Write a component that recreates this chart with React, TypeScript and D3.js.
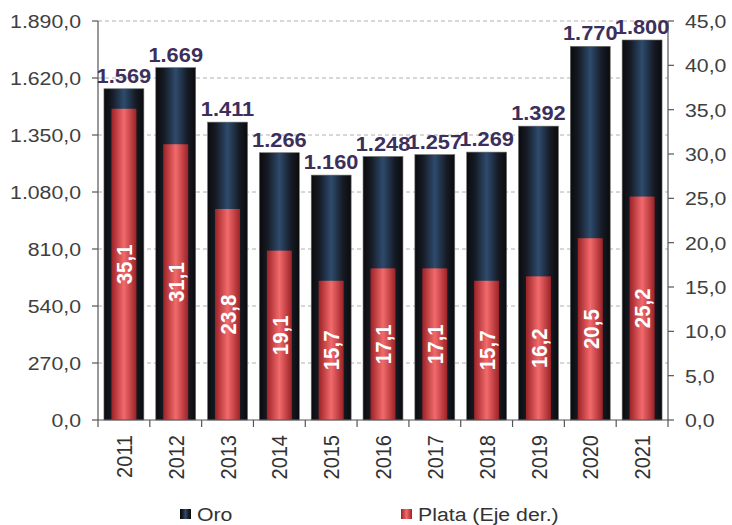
import React from "react";
import * as d3 from "d3";

const years = ["2011", "2012", "2013", "2014", "2015", "2016", "2017", "2018", "2019", "2020", "2021"];
const oro = [1569, 1669, 1411, 1266, 1160, 1248, 1257, 1269, 1392, 1770, 1800];
const plata = [35.1, 31.1, 23.8, 19.1, 15.7, 17.1, 17.1, 15.7, 16.2, 20.5, 25.2];
const leftTicks = [0, 270, 540, 810, 1080, 1350, 1620, 1890];
const rightTicks = [0, 5, 10, 15, 20, 25, 30, 35, 40, 45];

const W = 732, H = 525;
const M = { left: 98, right: 668, top: 21, bottom: 420 };
const SX = 1.12;
const FONT = "'Liberation Sans', Arial, sans-serif";

const fmtL = (v: number) => {
  const s = v.toFixed(1).replace(".", ",");
  const [i, d] = s.split(",");
  return i.replace(/\B(?=(\d{3})+(?!\d))/g, ".") + "," + d;
};
const fmtInt = (v: number) => String(v).replace(/\B(?=(\d{3})+(?!\d))/g, ".");
const fmtR = (v: number) => v.toFixed(1).replace(".", ",");

export default function App() {
  const x = d3.scaleBand<string>().domain(years).range([M.left, M.right]).paddingInner(0.23).paddingOuter(0.115);
  const yL = d3.scaleLinear().domain([0, 1890]).range([M.bottom, M.top]);
  const yR = d3.scaleLinear().domain([0, 45]).range([M.bottom, M.top]);
  const step = (M.right - M.left) / years.length;
  const bw = x.bandwidth();
  const rw = 25;

  const T = (props: any) => {
    const { x: tx, y: ty, rot, children, ...rest } = props;
    return (
      <text transform={`translate(${tx},${ty}) scale(${SX},1)${rot ? " rotate(-90)" : ""}`} fontFamily={FONT} {...rest}>
        {children}
      </text>
    );
  };

  return (
    <svg width={W} height={H} style={{ position: "absolute", left: 0, top: 0 }}>
      <defs>
        <linearGradient id="gOro" x1="0" x2="1" y1="0" y2="0">
          <stop offset="0" stopColor="#0b0b0d" />
          <stop offset="0.2" stopColor="#151a24" />
          <stop offset="0.5" stopColor="#2e4b6d" />
          <stop offset="0.8" stopColor="#151a24" />
          <stop offset="1" stopColor="#0b0b0d" />
        </linearGradient>
        <linearGradient id="gPlata" x1="0" x2="1" y1="0" y2="0">
          <stop offset="0" stopColor="#9c2226" />
          <stop offset="0.5" stopColor="#f26a6c" />
          <stop offset="1" stopColor="#9c2226" />
        </linearGradient>
      </defs>
      <rect width={W} height={H} fill="#fff" />
      {leftTicks.filter((t) => t > 0).map((t) => (
        <line key={t} x1={M.left} x2={M.right} y1={yL(t)} y2={yL(t)} stroke="#b0b0b0" strokeDasharray="4,3" strokeWidth={1} />
      ))}
      {years.map((yr, i) => (
        <g key={yr}>
          <rect x={x(yr)!} y={yL(oro[i])} width={bw} height={M.bottom - yL(oro[i])} fill="url(#gOro)" stroke="#6a6a6a" strokeWidth={0.6} />
          <rect x={x(yr)! + bw / 2 - rw / 2} y={yR(plata[i])} width={rw} height={M.bottom - yR(plata[i])} fill="url(#gPlata)" />
        </g>
      ))}
      {/* axes */}
      <line x1={M.left} x2={M.left} y1={M.top} y2={M.bottom} stroke="#555" strokeWidth={1.2} />
      <line x1={M.right} x2={M.right} y1={M.top} y2={M.bottom} stroke="#555" strokeWidth={1.2} />
      <line x1={M.left} x2={M.right} y1={M.bottom} y2={M.bottom} stroke="#555" strokeWidth={1.2} />
      {leftTicks.map((t) => (
        <g key={t}>
          <line x1={M.left - 6} x2={M.left} y1={yL(t)} y2={yL(t)} stroke="#555" strokeWidth={1.2} />
          <T x={81} y={yL(t)} dy="0.36em" textAnchor="end" fontSize={19} fill="#404040">{fmtL(t)}</T>
        </g>
      ))}
      {rightTicks.map((t) => (
        <g key={t}>
          <line x1={M.right} x2={M.right + 6} y1={yR(t)} y2={yR(t)} stroke="#555" strokeWidth={1.2} />
          <T x={685} y={yR(t)} dy="0.36em" textAnchor="start" fontSize={19} fill="#404040">{fmtR(t)}</T>
        </g>
      ))}
      {d3.range(years.length + 1).map((i) => (
        <line key={i} x1={M.left + i * step} x2={M.left + i * step} y1={M.bottom} y2={M.bottom + 7} stroke="#555" strokeWidth={1.2} />
      ))}
      {years.map((yr) => (
        <T key={yr} x={x(yr)! + bw / 2} y={435} rot dy="0.36em" textAnchor="end" fontSize={20} fill="#333">{yr}</T>
      ))}
      {/* value labels */}
      {years.map((yr, i) => (
        <T key={"o" + yr} x={x(yr)! + bw / 2} y={yL(oro[i]) - 6} textAnchor="middle" fontSize={19.5} fontWeight="bold" fill="#3d2f5b">{fmtInt(oro[i])}</T>
      ))}
      {years.map((yr, i) => (
        <T key={"p" + yr} x={x(yr)! + bw / 2} y={(yR(plata[i]) + M.bottom) / 2} rot dy="0.36em" textAnchor="middle" fontSize={20.5} fontWeight="bold" fill="#fff">{fmtR(plata[i])}</T>
      ))}
      {/* legend */}
      <rect x={180} y={509} width={11} height={10} fill="url(#gOro)" />
      <T x={197} y={521} fontSize={19} fill="#333">Oro</T>
      <rect x={401} y={509} width={11} height={10} fill="url(#gPlata)" />
      <T x={418} y={521} fontSize={19} fill="#333">Plata (Eje der.)</T>
    </svg>
  );
}
